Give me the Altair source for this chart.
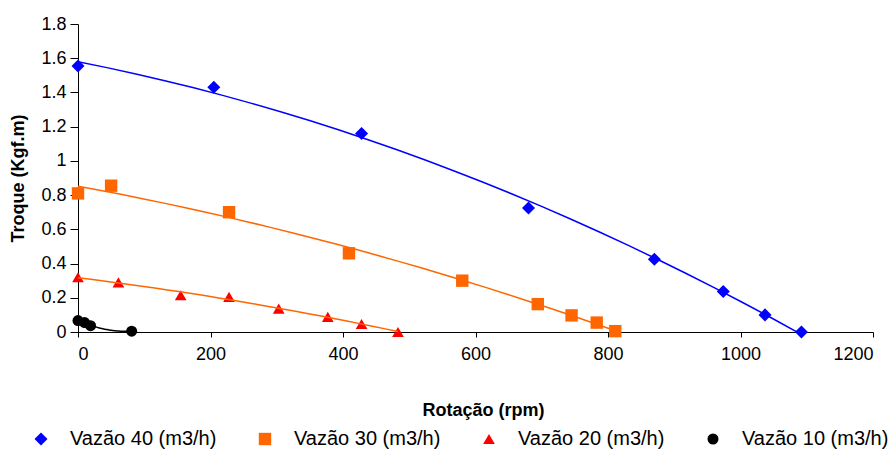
import altair as alt
import pandas as pd

series_names = ["Vazão 40 (m3/h)", "Vazão 30 (m3/h)", "Vazão 20 (m3/h)", "Vazão 10 (m3/h)"]

rpm_40 = [0, 205, 428, 680, 870, 974, 1037, 1092]
torque_40 = [1.555, 1.43, 1.16, 0.725, 0.425, 0.237, 0.10, 0.0]

rpm_30 = [0, 50, 228, 409, 580, 694, 745, 783, 811]
torque_30 = [0.81, 0.855, 0.70, 0.46, 0.30, 0.163, 0.097, 0.055, 0.005]

rpm_20 = [0, 61, 155, 228, 303, 377, 428, 483]
torque_20 = [0.32, 0.29, 0.215, 0.205, 0.137, 0.088, 0.047, 0.0]

rpm_10 = [0, 10, 19, 81]
torque_10 = [0.067, 0.055, 0.037, 0.005]

x_ticks = [0, 200, 400, 600, 800, 1000, 1200]
y_ticks = [0, 0.2, 0.4, 0.6, 0.8, 1.0, 1.2, 1.4, 1.6, 1.8]

all_rpm = [rpm_40, rpm_30, rpm_20, rpm_10]
all_torque = [torque_40, torque_30, torque_20, torque_10]

rows = []
for name, xs, ys in zip(series_names, all_rpm, all_torque):
    for xv, yv in zip(xs, ys):
        rows.append({"serie": name, "rpm": xv, "torque": yv})
df = pd.DataFrame(rows)

point_colors = ["#0000FF", "#FF6600", "#FF0000", "#000000"]
line_colors = ["#0000FF", "#FF6600", "#FF6600", "#000000"]
shapes = ["diamond", "square", "triangle-up", "circle"]
sizes = [170, 121, 175, 85]

FONT = "Liberation Sans"


def x_enc():
    return alt.X(
        "rpm:Q",
        scale=alt.Scale(domain=[0, 1200], nice=False, zero=True),
        axis=alt.Axis(
            values=x_ticks, format="d", title="Rotação (rpm)", tickSize=5,
            labelPadding=8, titleX=405, titleY=78, titleBaseline="middle",
            labelOverlap=False,
        ),
    )


def y_enc():
    return alt.Y(
        "torque:Q",
        scale=alt.Scale(domain=[0, 1.8], nice=False),
        axis=alt.Axis(
            values=y_ticks, format="~g", title="Troque (Kgf.m)", tickSize=8,
            labelPadding=4, titleX=-60, titleY=154, titleBaseline="middle",
            labelOverlap=False,
        ),
    )


lines = []
for name, col in zip(series_names, line_colors):
    lines.append(
        alt.Chart(df)
        .transform_filter(alt.datum.serie == name)
        .transform_regression("rpm", "torque", method="poly", order=2)
        .mark_line(color=col, strokeWidth=1.5, clip=True)
        .encode(x=x_enc(), y=y_enc())
    )

points = (
    alt.Chart(df)
    .mark_point(filled=True, opacity=1)
    .encode(
        x=x_enc(),
        y=y_enc(),
        color=alt.Color(
            "serie:N",
            scale=alt.Scale(domain=series_names, range=point_colors),
            legend=alt.Legend(
                title=None, orient="none", legendX=-47, legendY=405,
                direction="horizontal", columns=4, symbolSize=64,
                labelOffset=19, columnPadding=38,
            ),
        ),
        shape=alt.Shape("serie:N", scale=alt.Scale(domain=series_names, range=shapes)),
        size=alt.Size("serie:N", scale=alt.Scale(domain=series_names, range=sizes), legend=None),
    )
)

chart = (
    alt.layer(points, *lines)
    .properties(
        width=795, height=308, autosize="none",
        padding={"left": 70, "top": 16, "right": 15, "bottom": 122},
    )
    .configure_view(stroke=None)
    .configure_axis(
        grid=False, domainColor="#000000", tickColor="#000000",
        labelFont=FONT, labelFontSize=18, labelColor="#000000",
        titleFont=FONT, titleFontSize=18, titleFontWeight="bold", titleColor="#000000",
    )
    .configure_legend(labelFont=FONT, labelFontSize=20, labelColor="#000000", labelLimit=300)
)

chart.save("out.html", embed_options={"renderer": "svg", "actions": False})
